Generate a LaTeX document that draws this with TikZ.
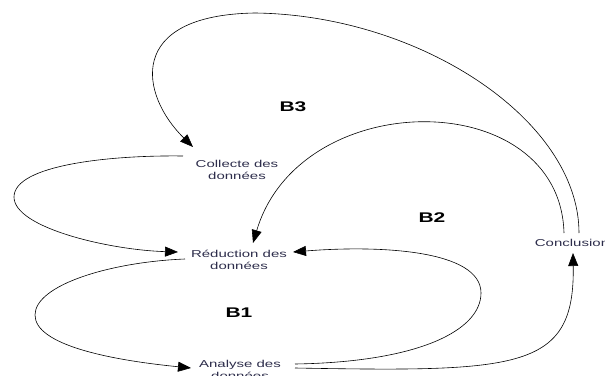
\documentclass[tikz,border=0pt]{standalone}
\usepackage{fontspec}
\newfontfamily\labfont[FakeStretch=1.5]{Liberation Sans}
\usetikzlibrary{arrows.meta}
\definecolor{txtcol}{RGB}{45,45,75}
\tikzset{
  stage/.style={inner sep=0pt, align=center, text=txtcol, font=\labfont\fontsize{10}{12}\selectfont},
  loopname/.style={inner sep=0pt, font=\labfont\bfseries\fontsize{14}{16}\selectfont},
  link/.style={line width=0.6pt, -{Triangle[length=13pt,width=10pt]}}
}
\begin{document}
\begin{tikzpicture}[x=1pt,y=-1pt]
\useasboundingbox (0,0) rectangle (605,375);
\node[stage] (coll) at (237,170) {Collecte des\\données};
\node[stage] (red)  at (239,260) {Réduction des\\données};
\node[stage] (ana)  at (240,370) {Analyse des\\données};
\node[stage] (conc) at (572,243) {Conclusion};
\node[loopname] (b3) at (293,107) {B3};
\node[loopname] (b2) at (432,218) {B2};
\node[loopname] (b1) at (239,313) {B1};
% B3 : Conclusion -> Collecte
\draw[link] ([shift={(7,-10)}]conc.center) .. controls (579,120) and (420,15) .. (255,13)
  .. controls (125,15) and (140,95) .. ([shift={(-44,-23)}]coll.center);
% B2 : Conclusion -> Reduction
\draw[link] ([shift={(-8,-10)}]conc.center) .. controls (560,85) and (300,85) .. ([shift={(14,-17)}]red.center);
% Collecte -> Reduction (left loop)
\draw[link] ([shift={(-54,-14)}]coll.center) .. controls (110,155) and (14,165) .. (14,197)
  .. controls (14,228) and (110,250) .. ([shift={(-61,-8)}]red.center);
% Reduction -> Analyse (left loop)
\draw[link] ([shift={(-54,-1)}]red.center) .. controls (110,262) and (35,285) .. (35,315)
  .. controls (35,345) and (110,360) .. ([shift={(-49,-2)}]ana.center);
% Analyse -> Reduction (right loop)
\draw[link] ([shift={(55,-6)}]ana.center) .. controls (420,362) and (481,330) .. (481,293)
  .. controls (481,250) and (380,245) .. ([shift={(54,-8)}]red.center);
% Analyse -> Conclusion
\draw[link] ([shift={(55,-2)}]ana.center) .. controls (520,372) and (575,370) .. ([shift={(1,10)}]conc.center);
\end{tikzpicture}
\end{document}
